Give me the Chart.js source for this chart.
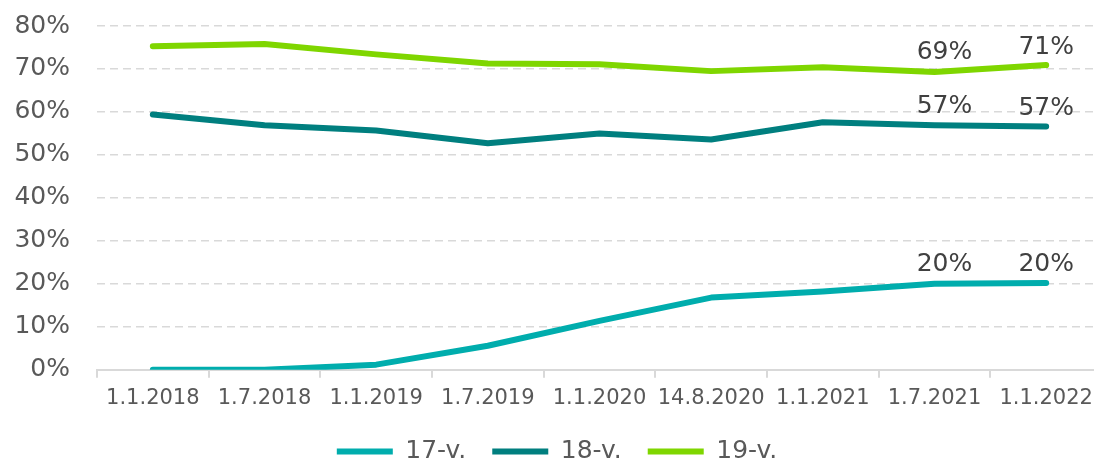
<!DOCTYPE html>
<html>
<head>
<meta charset="utf-8">
<script src="https://cdn.jsdelivr.net/npm/chart.js@4/dist/chart.umd.min.js"></script>
<style>
  html, body { margin: 0; padding: 0; background: #fff; overflow: hidden; }
  #wrap { position: relative; width: 1102px; height: 462px; }
</style>
</head>
<body>
<div id="wrap"><canvas id="chart"></canvas></div>
<script>
const categories = ['1.1.2018', '1.7.2018', '1.1.2019', '1.7.2019', '1.1.2020', '14.8.2020', '1.1.2021', '1.7.2021', '1.1.2022'];
const seriesNames = ['17-v.', '18-v.', '19-v.'];
const values17 = [0, 0, 1.2, 5.6, 11.4, 16.8, 18.2, 20.0, 20.2];
const values18 = [59.4, 56.9, 55.7, 52.7, 55.0, 53.6, 57.6, 56.9, 56.6];
const values19 = [75.3, 75.8, 73.4, 71.3, 71.1, 69.5, 70.4, 69.3, 70.9];
const yTicks = [0, 10, 20, 30, 40, 50, 60, 70, 80];
const labelledPoints = [7, 8];

const colors = ['#00adad', '#007f7f', '#7fd600'];
const font = "'DejaVu Sans', Verdana, sans-serif";

// value labels above the last two points of each line
const pointLabels = {
  id: 'pointLabels',
  afterDatasetsDraw(chart) {
    const ctx = chart.ctx;
    const shift = { 7: [10, -19], 8: [0, -18] };
    ctx.save();
    ctx.font = `25px ${font}`;
    ctx.fillStyle = '#404040';
    ctx.textAlign = 'center';
    ctx.textBaseline = 'middle';
    chart.data.datasets.forEach((ds, i) => {
      const meta = chart.getDatasetMeta(i);
      labelledPoints.forEach(idx => {
        const pt = meta.data[idx];
        const [dx, dy] = shift[idx];
        ctx.fillText(Math.round(ds.data[idx]) + '%', pt.x + dx, pt.y + dy);
      });
    });
    ctx.restore();
  }
};

const datasets = [values17, values18, values19].map((vals, i) => ({
  label: seriesNames[i],
  data: vals,
  borderColor: colors[i],
  backgroundColor: colors[i],
  borderWidth: 6,
  borderCapStyle: 'round',
  borderJoinStyle: 'round',
  pointRadius: 0,
  tension: 0
}));

new Chart(document.getElementById('chart'), {
  type: 'line',
  data: { labels: categories, datasets },
  plugins: [pointLabels],
  options: {
    responsive: true,
    maintainAspectRatio: false,
    animation: false,
    layout: { padding: { top: 26, left: 12, right: 0, bottom: -12 } },
    plugins: {
      tooltip: { enabled: false },
      legend: {
        position: 'bottom',
        labels: {
          usePointStyle: true,
          pointStyle: 'line',
          pointStyleWidth: 56,
          padding: 26,
          color: '#595959',
          font: { family: font, size: 25 }
        }
      }
    },
    scales: {
      x: {
        offset: true,
        afterFit(scale) { scale.height -= 6; },
        grid: {
          offset: true,
          drawOnChartArea: false,
          drawTicks: true,
          tickLength: 8,
          color: '#d9d9d9',
          lineWidth: 2
        },
        border: { display: true, color: '#d9d9d9', width: 2 },
        ticks: {
          color: '#595959',
          padding: 8,
          maxRotation: 0,
          autoSkip: false,
          font: { family: font, size: 21 }
        }
      },
      y: {
        min: 0,
        max: 80,
        afterFit(scale) { scale.width = 85; },
        afterBuildTicks(scale) { scale.ticks = yTicks.map(v => ({ value: v })); },
        border: { display: false, dash: [8, 5] },
        grid: {
          drawTicks: true,
          tickLength: 25,
          tickColor: 'rgba(0,0,0,0)',
          lineWidth: 1.5,
          color: c => c.tick && c.tick.value === 0 ? 'rgba(0,0,0,0)' : '#d9d9d9'
        },
        ticks: {
          color: '#595959',
          padding: 2,
          font: { family: font, size: 25 },
          callback: v => v + '%'
        }
      }
    }
  }
});
</script>
</body>
</html>
